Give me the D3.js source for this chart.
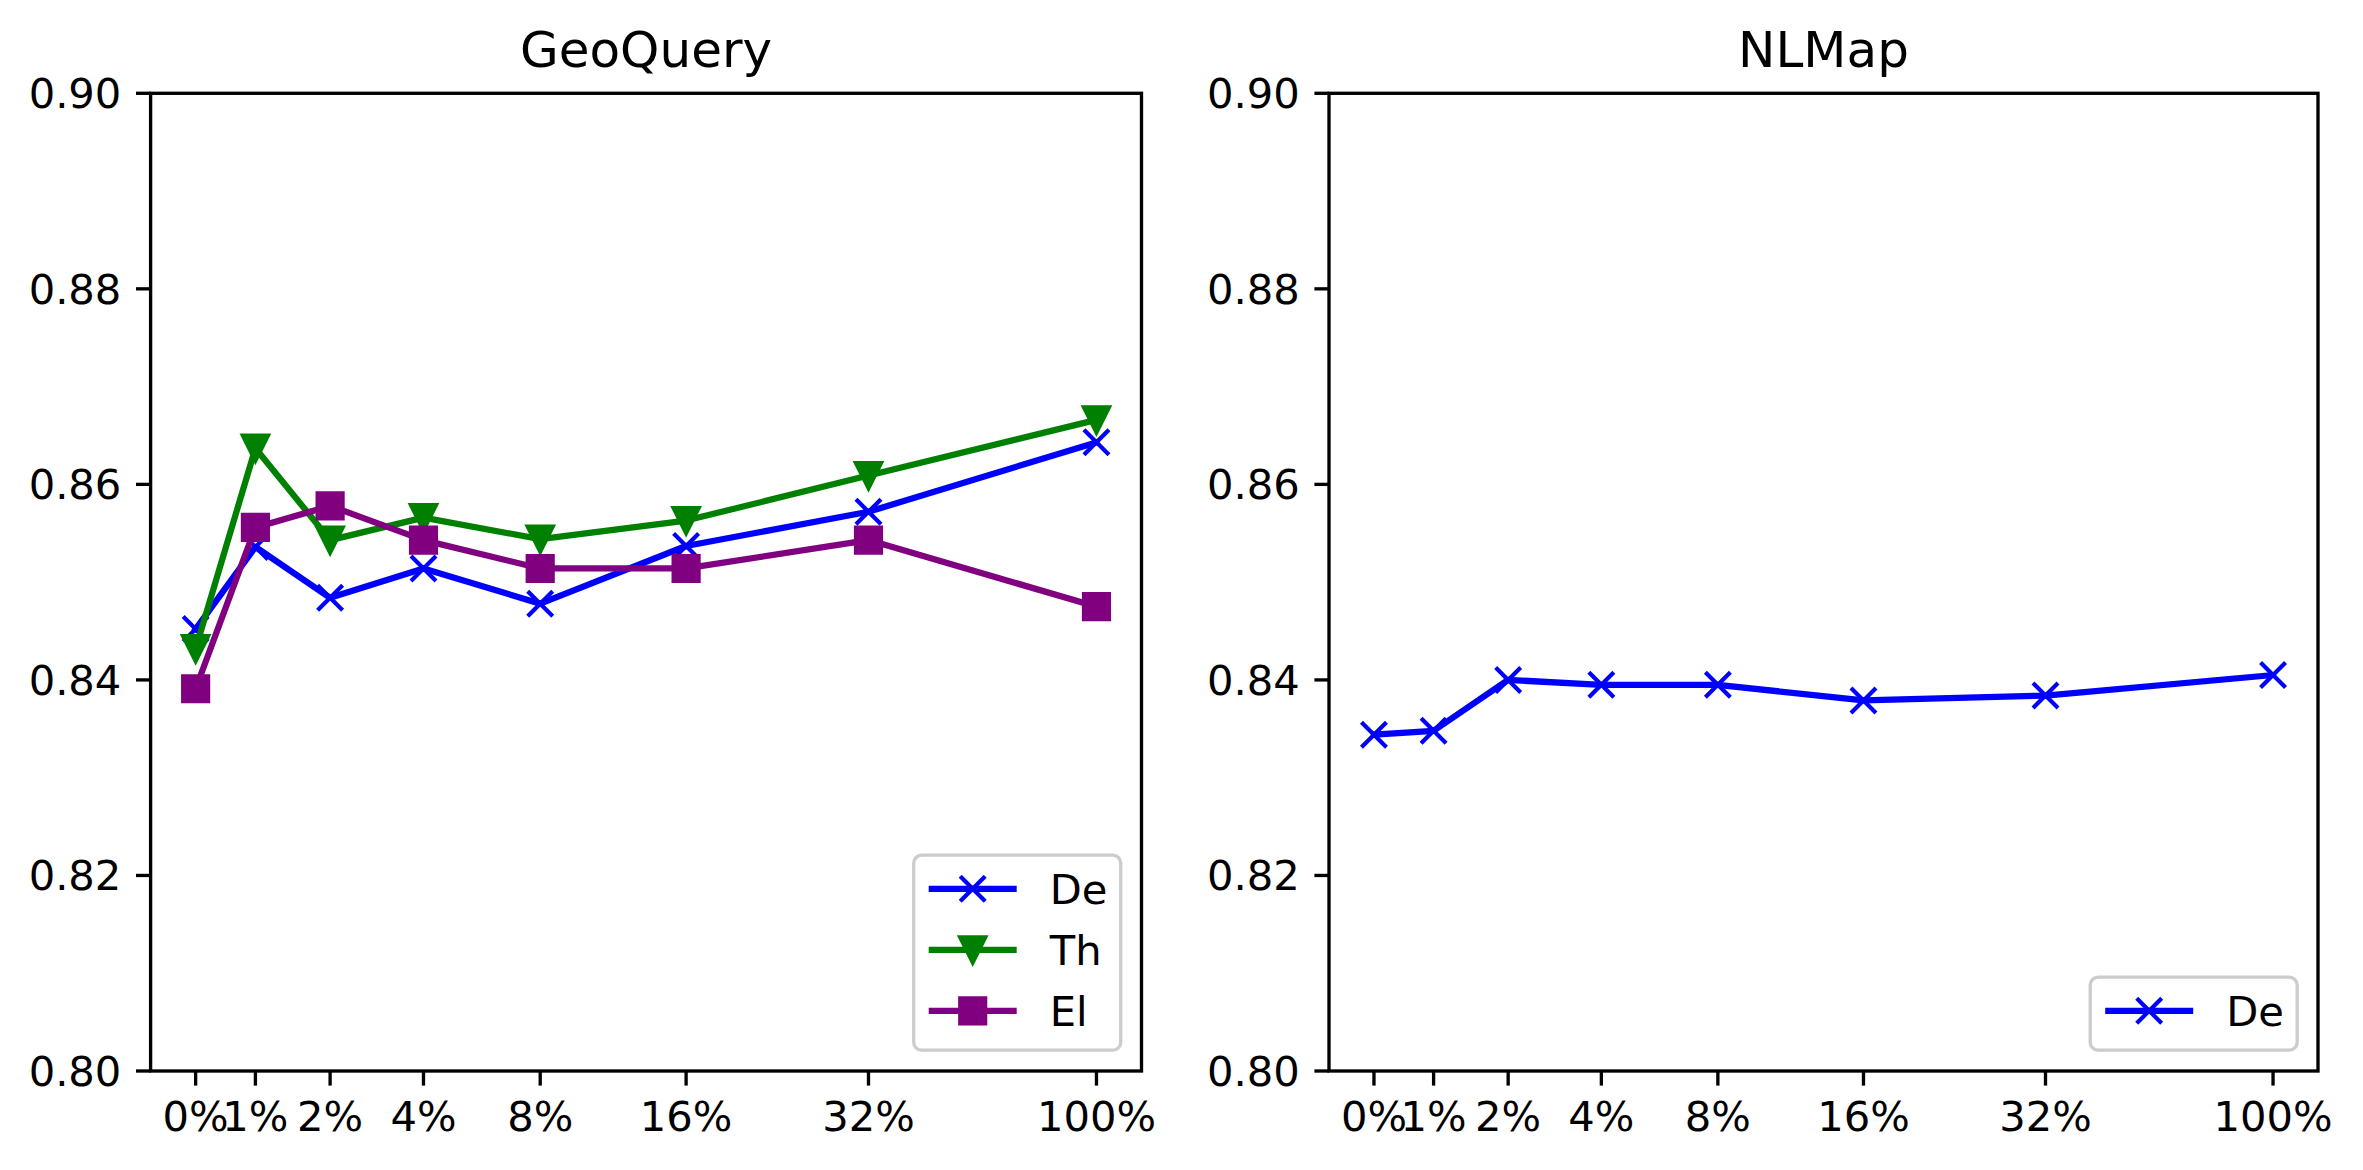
<!DOCTYPE html>
<html>
<head>
<meta charset="utf-8">
<script src="https://cdn.jsdelivr.net/npm/d3@7"></script>
<style>
  html, body { margin: 0; padding: 0; background: #ffffff; }
  svg { display: block; }
  text { font-family: "DejaVu Sans", sans-serif; fill: #000; }
</style>
</head>
<body>
<svg id="chart" width="2363" height="1170"></svg>
<script>
// ---------------- data ----------------
const categories = ["0%", "1%", "2%", "4%", "8%", "16%", "32%", "100%"];
const geoDe  = [0.8452, 0.8536, 0.8484, 0.8514, 0.8478, 0.8537, 0.8572, 0.8643];
const geoTh  = [0.8432, 0.8637, 0.8543, 0.8566, 0.8544, 0.8563, 0.8609, 0.8666];
const geoEl  = [0.8391, 0.8556, 0.8578, 0.8543, 0.8514, 0.8514, 0.8543, 0.8475];
const nlmapDe = [0.8344, 0.8348, 0.8400, 0.8395, 0.8395, 0.8379, 0.8384, 0.8405];
const yTicks = [0.80, 0.82, 0.84, 0.86, 0.88, 0.90];
const panelTitles = ["GeoQuery", "NLMap"];
const seriesNames = ["De", "Th", "El"];

// ---------------- layout / style ----------------
const svg = d3.select("#chart");
const FS = 41.67;          // 10pt @300dpi
const TITLE_FS = 50;       // 12pt
const LW = 6.25;           // 1.5pt
const MS = 25;             // markersize 6pt
const MEW = 4.17;          // 1pt
const SPINE = 3.33;
const TICKLEN = 14.6, PAD = 14.6;

const panels = [
  { left: 150.6, right: 1141.5, top: 93.3, bottom: 1071, title: panelTitles[0],
    series: [
      { name: seriesNames[0], values: geoDe, color: "#0000ff", marker: "x" },
      { name: seriesNames[1], values: geoTh, color: "#008000", marker: "v" },
      { name: seriesNames[2], values: geoEl, color: "#800080", marker: "s" }
    ] },
  { left: 1329, right: 2318, top: 93.3, bottom: 1071, title: panelTitles[1],
    series: [
      { name: seriesNames[0], values: nlmapDe, color: "#0000ff", marker: "x" }
    ] }
];

// x spacing: geometric index spacing (ratio 1.25) as in the reference
const ratio = 1.25;
const u = categories.map((_, i) => Math.pow(ratio, i));
const uMin = d3.min(u), uMax = d3.max(u), uPad = 0.05 * (uMax - uMin);

function markerPath(type) {
  const h = MS / 2;
  if (type === "x") return `M${-h},${-h}L${h},${h}M${-h},${h}L${h},${-h}`;
  if (type === "v") return `M0,${h}L${-h},${-h}L${h},${-h}Z`;
  if (type === "s") return `M${-h},${-h}H${h}V${h}H${-h}Z`;
  return "";
}
function drawMarker(g, type, color, x, y) {
  const p = g.append("path")
    .attr("d", markerPath(type))
    .attr("transform", `translate(${x},${y})`)
    .attr("stroke", color)
    .attr("stroke-width", MEW)
    .attr("stroke-linejoin", "miter");
  if (type === "x") p.attr("fill", "none").attr("stroke-linecap", "butt");
  else p.attr("fill", color);
}

panels.forEach(P => {
  const g = svg.append("g");
  const x = d3.scaleLinear().domain([uMin - uPad, uMax + uPad]).range([P.left, P.right]);
  const xi = i => x(u[i]);
  const y = d3.scaleLinear().domain([0.80, 0.90]).range([P.bottom, P.top]);

  // title
  g.append("text")
    .attr("x", (P.left + P.right) / 2)
    .attr("y", P.top - 26)
    .attr("text-anchor", "middle")
    .attr("font-size", TITLE_FS)
    .text(P.title);

  // series
  const clipId = "clip" + P.left;
  svg.append("clipPath").attr("id", clipId).append("rect")
    .attr("x", P.left).attr("y", P.top).attr("width", P.right - P.left).attr("height", P.bottom - P.top);
  const plot = g.append("g");
  P.series.forEach(s => {
    const line = d3.line().x((d, i) => xi(i)).y(d => y(d));
    plot.append("path")
      .attr("d", line(s.values))
      .attr("fill", "none")
      .attr("stroke", s.color)
      .attr("stroke-width", LW)
      .attr("stroke-linejoin", "round")
      .attr("stroke-linecap", "square");
    s.values.forEach((v, i) => drawMarker(plot, s.marker, s.color, xi(i), y(v)));
  });

  // spines
  g.append("rect")
    .attr("x", P.left).attr("y", P.top)
    .attr("width", P.right - P.left).attr("height", P.bottom - P.top)
    .attr("fill", "none").attr("stroke", "#000").attr("stroke-width", SPINE);

  // y ticks
  yTicks.forEach(t => {
    g.append("line")
      .attr("x1", P.left - TICKLEN).attr("x2", P.left)
      .attr("y1", y(t)).attr("y2", y(t))
      .attr("stroke", "#000").attr("stroke-width", SPINE);
    g.append("text")
      .attr("x", P.left - TICKLEN - PAD)
      .attr("y", y(t) + 15)
      .attr("text-anchor", "end")
      .attr("font-size", FS)
      .text(d3.format(".2f")(t));
  });

  // x ticks
  categories.forEach((c, i) => {
    g.append("line")
      .attr("x1", xi(i)).attr("x2", xi(i))
      .attr("y1", P.bottom).attr("y2", P.bottom + TICKLEN)
      .attr("stroke", "#000").attr("stroke-width", SPINE);
    g.append("text")
      .attr("x", xi(i))
      .attr("y", P.bottom + TICKLEN + PAD + 31)
      .attr("text-anchor", "middle")
      .attr("font-size", FS)
      .text(c);
  });

  // legend (lower right)
  const n = P.series.length;
  const rowH = 61;
  const lgW = 207;
  const lgH = 12 + n * rowH;
  const lgRight = P.right - 20.8, lgBottom = P.bottom - 20.8;
  const lgLeft = lgRight - lgW, lgTop = lgBottom - lgH;
  const lg = g.append("g");
  lg.append("rect")
    .attr("x", lgLeft).attr("y", lgTop)
    .attr("width", lgW).attr("height", lgH)
    .attr("rx", 8).attr("ry", 8)
    .attr("fill", "#ffffff").attr("fill-opacity", 0.8)
    .attr("stroke", "#cccccc").attr("stroke-width", 3.33);
  P.series.forEach((s, k) => {
    const cy = lgTop + 33.6 + k * rowH;
    const x0 = lgLeft + 15, x1 = x0 + 88;
    lg.append("line")
      .attr("x1", x0).attr("x2", x1).attr("y1", cy).attr("y2", cy)
      .attr("stroke", s.color).attr("stroke-width", LW);
    drawMarker(lg, s.marker, s.color, (x0 + x1) / 2, cy);
    lg.append("text")
      .attr("x", x1 + 33)
      .attr("y", cy + 15)
      .attr("font-size", FS)
      .text(s.name);
  });
});
</script>
</body>
</html>
